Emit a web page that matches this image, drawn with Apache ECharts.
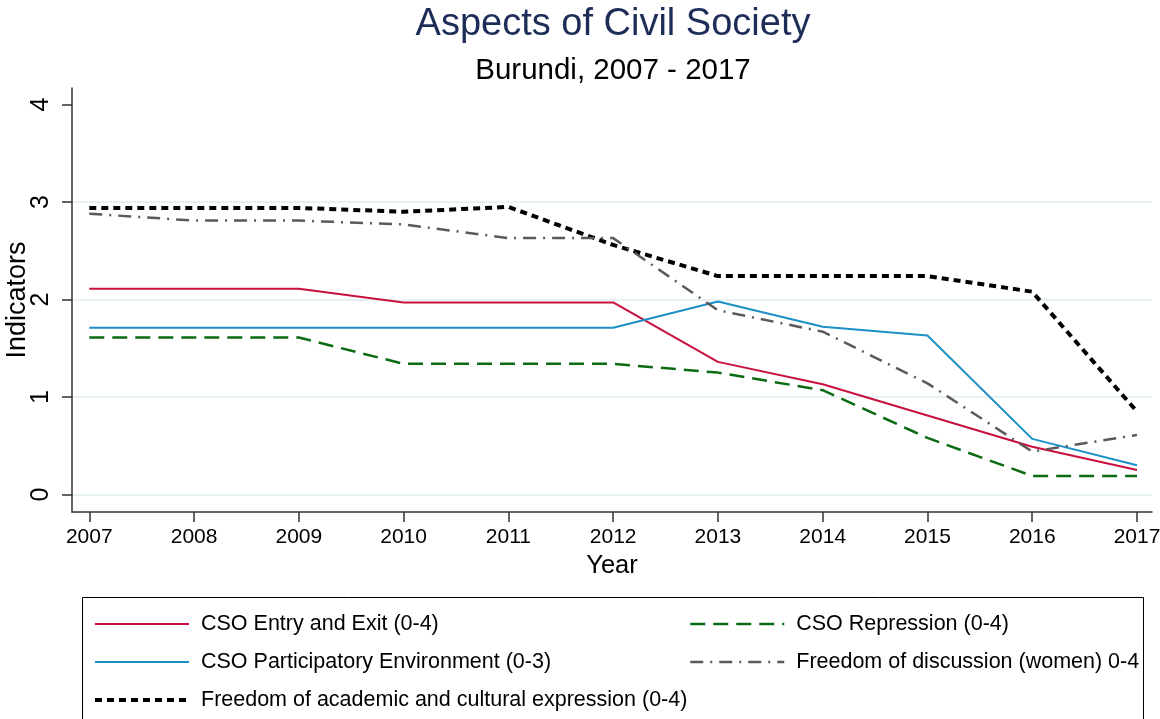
<!DOCTYPE html>
<html><head><meta charset="utf-8">
<script src="https://cdn.jsdelivr.net/npm/echarts@6/dist/echarts.min.js"></script>
<style>html,body{margin:0;padding:0;background:#fff}#c{width:1160px;height:719px}</style>
</head><body><div id="c"></div>
<script>
var years = [2007, 2008, 2009, 2010, 2011, 2012, 2013, 2014, 2015, 2016, 2017];
var yTicks = [0, 1, 2, 3, 4];
var entryExit = [2.11, 2.11, 2.11, 1.97, 1.97, 1.97, 1.36, 1.13, 0.81, 0.49, 0.25];
var participatory = [1.71, 1.71, 1.71, 1.71, 1.71, 1.71, 1.98, 1.72, 1.63, 0.57, 0.30];
var repression = [1.61, 1.61, 1.61, 1.34, 1.34, 1.34, 1.25, 1.07, 0.58, 0.19, 0.19];
var womenDiscussion = [2.88, 2.81, 2.81, 2.77, 2.63, 2.63, 1.89, 1.67, 1.14, 0.44, 0.61];
var academic = [2.94, 2.94, 2.94, 2.90, 2.95, 2.56, 2.24, 2.24, 2.24, 2.08, 0.85];

var names = ['CSO Entry and Exit (0-4)', 'CSO Participatory Environment (0-3)',
  'Freedom of academic and cultural expression (0-4)', 'CSO Repression (0-4)',
  'Freedom of discussion (women) 0-4'];

function pairs(v){ return years.map(function(y,i){ return [y, v[i]]; }); }

var FONT = '"Liberation Sans", Arial, sans-serif';
var chart = echarts.init(document.getElementById('c'), null, {renderer:'canvas'});
var legendText = {fontFamily: FONT, fontSize: 21.5, color: '#000', padding: [0,0,0,7], lineHeight: 22};
chart.setOption({
  animation: false,
  backgroundColor: '#fff',
  textStyle: {fontFamily: FONT},
  title: [
    {text: 'Aspects of Civil Society', left: 608, textAlign: 'center', top: 1,
     textStyle: {fontFamily: FONT, fontSize: 38, fontWeight: 'normal', color: '#1d2d58'}},
    {text: 'Burundi, 2007 - 2017', left: 608, textAlign: 'center', top: 51,
     textStyle: {fontFamily: FONT, fontSize: 29.5, fontWeight: 'normal', color: '#000'}}
  ],
  grid: {left: 72, right: 8, top: 88, bottom: 207, containLabel: false, outerBoundsMode: 'none'},
  xAxis: {
    type: 'value', min: 2006.835, max: 2017.143,
    name: 'Year', nameLocation: 'middle', nameGap: 41,
    nameTextStyle: {fontFamily: FONT, fontSize: 25.5, color: '#000'},
    axisLine: {show: true, onZero: false, lineStyle: {color: '#333', width: 1.5}},
    axisTick: {show: true, length: 10, lineStyle: {color: '#333', width: 1.5}, customValues: years},
    axisLabel: {fontFamily: FONT, fontSize: 21, color: '#000', margin: 15, customValues: years,
      formatter: function(v){ return String(v); }},
    splitLine: {show: false}
  },
  yAxis: {
    type: 'value', min: -0.18, max: 4.17,
    name: 'Indicators', nameLocation: 'middle', nameGap: 41, nameMoveOverlap: false,
    nameTextStyle: {fontFamily: FONT, fontSize: 27, color: '#000'},
    axisLine: {show: true, onZero: false, lineStyle: {color: '#333', width: 1.5}},
    axisTick: {show: true, length: 10, lineStyle: {color: '#333', width: 1.5}, customValues: yTicks},
    axisLabel: {fontFamily: FONT, fontSize: 25, color: '#000', rotate: 90, margin: 18, customValues: yTicks},
    splitLine: {show: true, lineStyle: {color: ['#e8f1f3', '#e8f1f3', '#e8f1f3', '#e8f1f3', 'rgba(0,0,0,0)'], width: 2}}
  },
  legend: [
    {orient: 'vertical', left: 88, top: 608, itemWidth: 94, itemHeight: 18, itemGap: 16,
     data: [
       {name: names[0], lineStyle: {width: 2}},
       {name: names[1], lineStyle: {width: 2}},
       {name: names[2], lineStyle: {width: 4}}
     ], selectedMode: false,
     itemStyle: {opacity: 0}, textStyle: legendText},
    {orient: 'vertical', left: 684, top: 608, itemWidth: 94, itemHeight: 18, itemGap: 16,
     data: [
       {name: names[3], lineStyle: {width: 2.5}},
       {name: names[4], lineStyle: {width: 2.5}}
     ], selectedMode: false,
     itemStyle: {opacity: 0}, textStyle: legendText}
  ],
  graphic: [
    {type: 'rect', shape: {x: 82.5, y: 597.5, width: 1061, height: 140},
     style: {fill: 'none', stroke: '#000', lineWidth: 1}, silent: true, z: 0}
  ],
  series: [
    {name: names[0], type: 'line', data: pairs(entryExit), symbol: 'none',
     lineStyle: {color: '#c8103e', width: 2}, itemStyle: {color: '#c8103e'}},
    {name: names[1], type: 'line', data: pairs(participatory), symbol: 'none',
     lineStyle: {color: '#1b8fc6', width: 2}, itemStyle: {color: '#1b8fc6'}},
    {name: names[2], type: 'line', data: pairs(academic), symbol: 'none',
     lineStyle: {color: '#000', width: 4, type: [7, 5]}, itemStyle: {color: '#000'}},
    {name: names[3], type: 'line', data: pairs(repression), symbol: 'none',
     lineStyle: {color: '#0b6b12', width: 2.5, type: [15, 8]}, itemStyle: {color: '#0b6b12'}},
    {name: names[4], type: 'line', data: pairs(womenDiscussion), symbol: 'none',
     lineStyle: {color: '#5a5a5a', width: 2.5, type: [13, 7, 2, 7]}, itemStyle: {color: '#5a5a5a'}}
  ]
});
</script></body></html>
